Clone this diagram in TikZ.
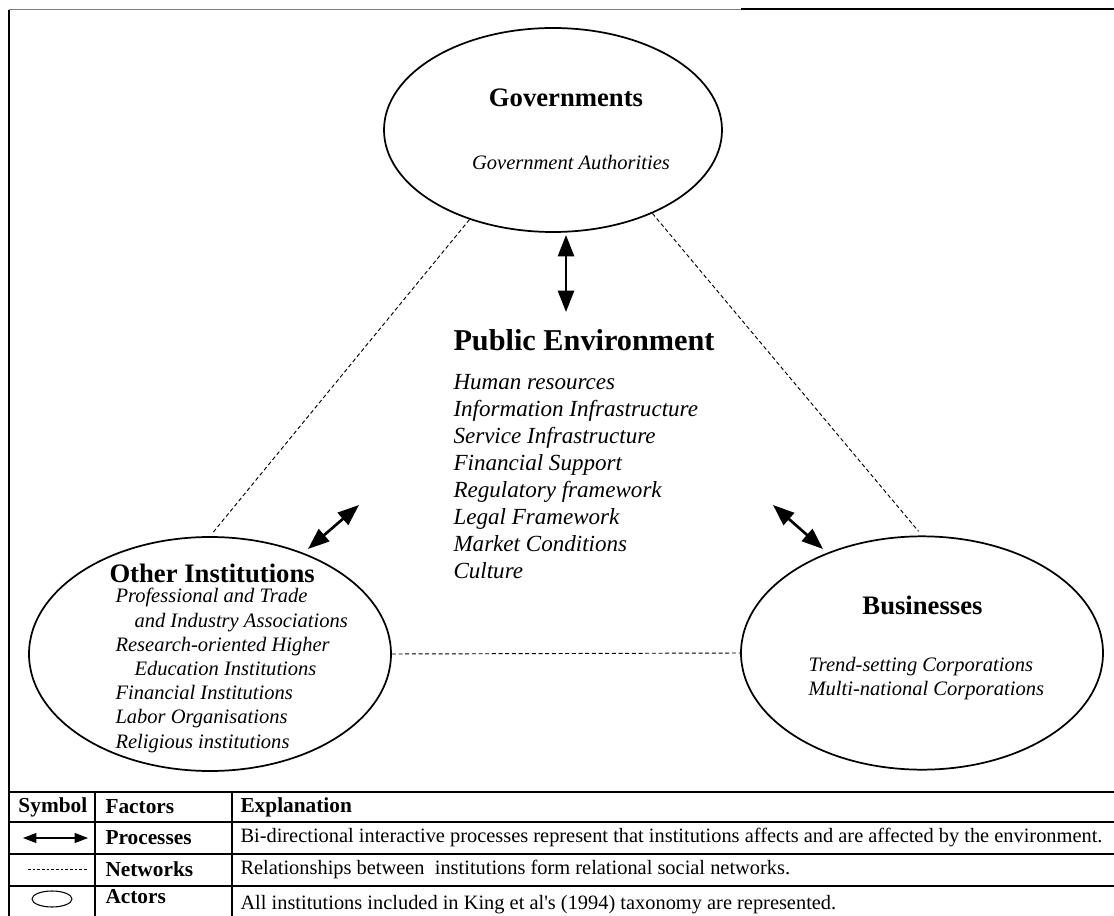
\documentclass[tikz,border=0pt]{standalone}
\usepackage{fontspec}
\setmainfont{Liberation Serif}
\usetikzlibrary{arrows.meta,shapes.geometric}

\tikzset{every picture/.style={line width=0.75pt}}
\tikzset{
  actor/.style={draw, ellipse, line width=1.3pt, inner sep=0pt},
  network/.style={dash pattern=on 3pt off 2pt, line width=0.7pt},
  process/.style={{Triangle[length=16pt,width=12pt]}-{Triangle[length=16pt,width=12pt]}, line width=2pt},
  title/.style={font=\fontsize{20}{24}\selectfont\bfseries, inner sep=0.75pt},
  item/.style={font=\fontsize{15.4}{18.15}\selectfont\itshape, inner sep=0.75pt, align=left},
  tabtext/.style={font=\fontsize{15.3}{18}\selectfont, inner sep=0.75pt, anchor=west},
  tabhead/.style={tabtext, font=\fontsize{16}{18}\selectfont\bfseries},
  rule/.style={line width=1.2pt}
}

\begin{document}
\begin{tikzpicture}[x=0.75pt,y=0.75pt,yscale=-1,xscale=1]
\useasboundingbox (0,0) rectangle (1114,916);

%Straight Lines: frame
\draw [color=gray, line width=0.75pt] (9,10) -- (741,10) ;
\draw [line width=2pt] (741,9) -- (1114,9) ;
\draw [line width=1.5pt] (9,10) -- (9,916) ;

%Shape: Ellipse [Governments]
\node [actor, minimum width=253.5pt, minimum height=153pt] (gov) at (553,130) {};
%Shape: Ellipse [Other Institutions]
\node [actor, minimum width=271.5pt, minimum height=175.5pt] (oth) at (210,654) {};
%Shape: Ellipse [Businesses]
\node [actor, minimum width=271.5pt, minimum height=175pt] (bus) at (922,653) {};

%Straight Lines: networks
\draw [network, shorten >=4pt] (gov.227) -- (oth.north) ;
\draw [network, shorten >=4pt] (gov.320) -- (bus.north) ;
\draw [network] (oth.east) -- (bus.west) ;

%Straight Lines: processes
\coordinate (pvt) at (566,235) ;
\coordinate (pvb) at (566,312) ;
\coordinate (plt) at (359,505) ;
\coordinate (plb) at (308,549) ;
\coordinate (prt) at (773,505) ;
\coordinate (prb) at (823,549) ;
\draw [process] (pvt) -- (pvb) ;
\draw [process] (plt) -- (plb) ;
\draw [process] (prt) -- (prb) ;

% Governments
\node [title] (govt) at (566,98) {Governments};
\node [item] (gova) at (571,162) {Government Authorities};

% Public Environment
\node [title, font=\fontsize{22.7}{26}\selectfont\bfseries, anchor=west] (pubt) at (452,340) {Public Environment};
\node [item, font=\fontsize{17.3}{20.25}\selectfont\itshape, anchor=west] (publ) at (452,476.5) {Human resources\\Information Infrastructure\\Service Infrastructure\\Financial Support\\Regulatory framework\\Legal Framework\\Market Conditions\\Culture};

% Other Institutions
\node [title, anchor=west] (otht) at (108,573) {Other Institutions};
\node [item, anchor=west] (othl) at (114,670.5) {Professional and Trade\\\hspace{14.25pt}and Industry Associations\\Research-oriented Higher\\\hspace{14.25pt}Education Institutions\\Financial Institutions\\Labor Organisations\\Religious institutions};

% Businesses
\node [title] (bust) at (922.5,605) {Businesses};
\node [item, anchor=west] (busl) at (807,678.5) {Trend-setting Corporations\\Multi-national Corporations};

%Table
\draw [rule] (9,792) -- (1114,792) ;
\draw [rule] (9,822) -- (1114,822) ;
\draw [rule] (9,854) -- (1114,854) ;
\draw [rule] (9,886) -- (1114,886) ;
\draw [rule] (95,792) -- (95,916) ;
\draw [rule] (232,792) -- (232,916) ;

\node [tabhead] (hsym) at (17,807) {Symbol};
\node [tabhead] (hfac) at (104,807) {Factors};
\node [tabhead] (hexp) at (239,807) {Explanation};

\coordinate (sa) at (23,838) ;
\coordinate (sb) at (88,838) ;
\draw [{Triangle[length=10pt,width=7.5pt]}-{Triangle[length=10pt,width=7.5pt]}, line width=0.8pt] (sa) -- (sb) ;
\node [tabhead] (fpro) at (104,838) {Processes};
\node [tabtext] (epro) at (239,838) {Bi-directional interactive processes represent that institutions affects and are affected by the environment.};

\coordinate (sc) at (28,869) ;
\coordinate (sd) at (87,869) ;
\draw [dash pattern=on 2pt off 1.5pt, line width=0.6pt] (sc) -- (sd) ;
\node [tabhead] (fnet) at (104,869) {Networks};
\node [tabtext] (enet) at (239,869) {Relationships between\ \ institutions form relational social networks.};

\node [draw, ellipse, line width=0.8pt, minimum width=30pt, minimum height=12pt, inner sep=0pt] (sact) at (52,899) {};
\node [tabhead] (fact) at (104,897) {Actors};
\node [tabtext] (eact) at (239,905) {All institutions included in King et al\textquotesingle s (1994) taxonomy are represented.};

\end{tikzpicture}
\end{document}
